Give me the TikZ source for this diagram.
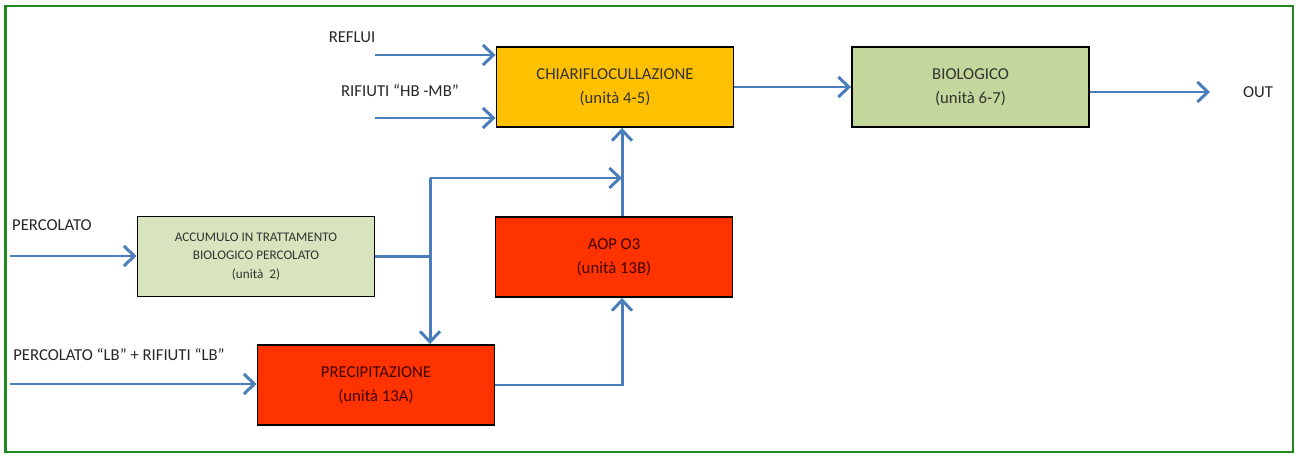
\documentclass[tikz,border=0pt]{standalone}
\usepackage{fontspec}
\setmainfont{Carlito}
\usepackage{tikz}
\usetikzlibrary{arrows.meta}
\definecolor{flowblue}{HTML}{4A7EBB}
\definecolor{boxorange}{HTML}{FFC000}
\definecolor{boxgreen}{HTML}{C3D69B}
\definecolor{boxpale}{HTML}{D7E4BD}
\definecolor{boxred}{HTML}{FF3300}
\definecolor{framegreen}{HTML}{1E8A1E}

\begin{document}
\begin{tikzpicture}[
        unitbox/.style={draw=black,line width=1.1pt,minimum width=4.74cm,minimum height=1.6cm,align=center,font=\fontsize{9.5}{13.5}\selectfont,text=black!80},
        flow/.style={draw=flowblue,line width=1.7pt},
        flowarrow/.style={flow,-{Straight Barb[length=2.1mm,width=4mm,line width=1.7pt]}},
        inlabel/.style={font=\fontsize{9.5}{11}\selectfont,text=black!85}
    ]
        \useasboundingbox (0,0) rectangle (25.96,-9.1);
        \draw[framegreen,line width=1.4pt] (0.11,-0.12) rectangle (25.86,-9.04);

        \coordinate (chiari) at (12.3,-1.74);
        \coordinate (bio) at (19.41,-1.74);
        \coordinate (accum) at (5.12,-5.13);
        \coordinate (aop) at (12.28,-5.14);
        \coordinate (precip) at (7.52,-7.7);

        \node[unitbox,fill=boxorange] (Chiari) at (chiari){CHIARIFLOCULLAZIONE\\(unità 4-5)};
        \node[unitbox,fill=boxgreen] (Bio) at (bio){BIOLOGICO\\(unità 6-7)};
        \node[unitbox,fill=boxpale,font=\fontsize{7.5}{10.5}\selectfont] (Accum) at (accum){ACCUMULO IN TRATTAMENTO\\BIOLOGICO PERCOLATO\\(unità~~2)};
        \node[unitbox,fill=boxred,text=black!75!red] (Aop) at (aop){AOP O3\\(unità 13B)};
        \node[unitbox,fill=boxred,text=black!75!red] (Precip) at (precip){PRECIPITAZIONE\\(unità 13A)};

        % inputs
        \coordinate (refluiIn) at (7.5,-1.1);
        \coordinate (rifiutiIn) at (7.5,-2.36);
        \coordinate (percIn) at (0.2,-5.12);
        \coordinate (lbIn) at (0.2,-7.68);
        \coordinate (outEnd) at (24.2,-1.84);
        \coordinate (split) at (8.6,-5.13);
        \coordinate (splitTop) at (8.6,-3.56);
        \coordinate (riser) at (12.44,-3.56);

        \node[inlabel] (Reflui) at (7.04,-0.74){REFLUI};
        \node[inlabel] (Rifiuti) at (8.0,-1.82){RIFIUTI ``HB -MB''};
        \node[inlabel] (Perc) at (1.04,-4.5){PERCOLATO};
        \node[inlabel] (Lb) at (2.38,-7.1){PERCOLATO ``LB'' + RIFIUTI ``LB''};
        \node[inlabel] (Out) at (25.16,-1.84){OUT};

        \draw[flowarrow] (refluiIn) -- (refluiIn -| Chiari.west);
        \draw[flowarrow] (rifiutiIn) -- (rifiutiIn -| Chiari.west);
        \draw[flowarrow] (Chiari.east) -- (Bio.west);
        \draw[flowarrow] (outEnd -| Bio.east) -- (outEnd);
        \draw[flowarrow] (percIn) -- (percIn -| Accum.west);
        \draw[flowarrow] (lbIn) -- (lbIn -| Precip.west);

        \draw[flow] (Accum.east) -- (Accum.east -| split);
        \draw[flowarrow] (splitTop) -- (split |- Precip.north);
        \draw[flowarrow] (splitTop) -- (riser);
        \draw[flowarrow] (Aop.north -| riser) -- (Chiari.south -| riser);
        \draw[flowarrow] (Precip.east) -- (riser |- Precip.east) -- (Aop.south -| riser);
    \end{tikzpicture}
\end{document}
